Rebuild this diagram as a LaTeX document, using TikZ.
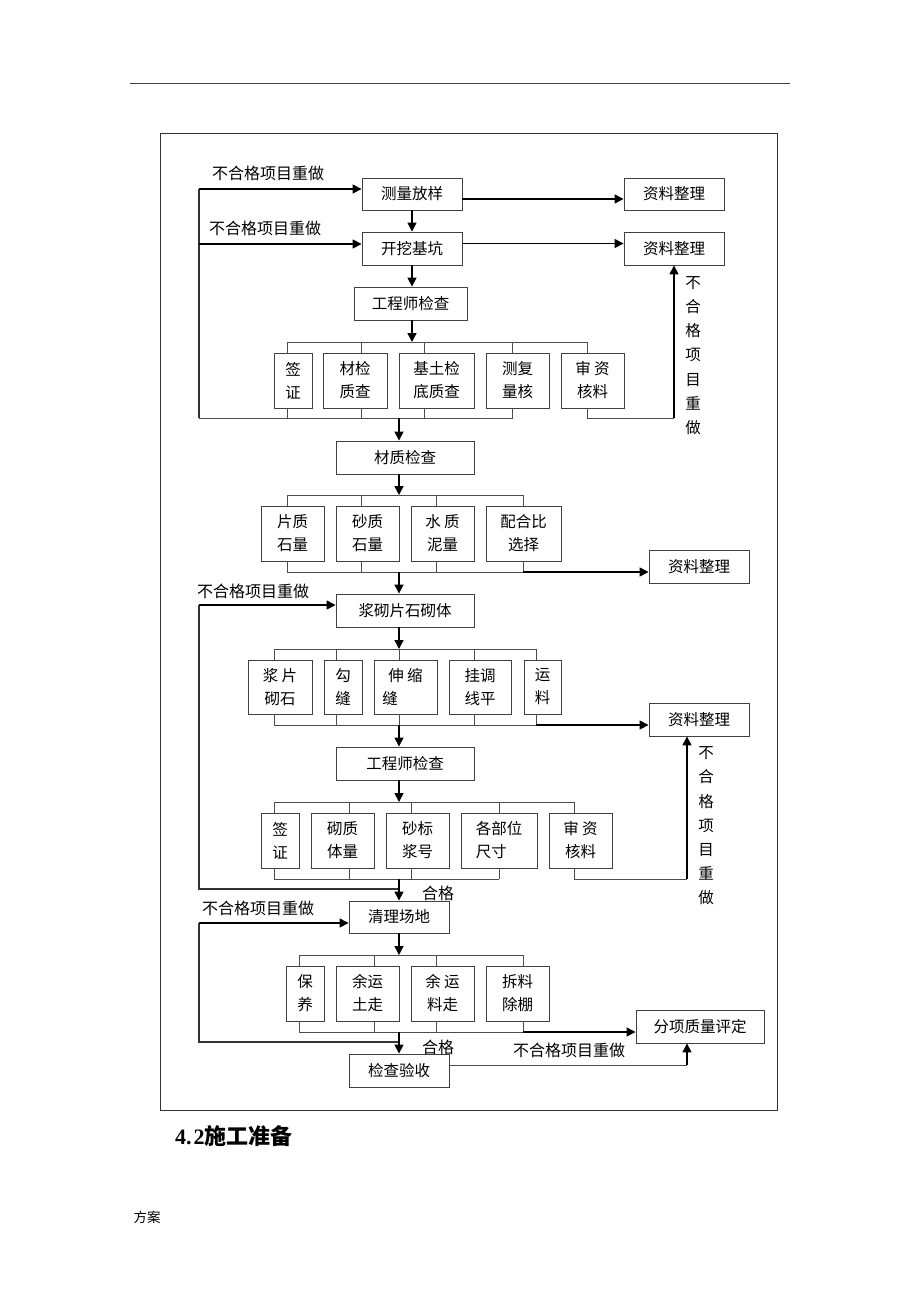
\documentclass[tikz,border=0pt]{standalone}
\usepackage{fontspec}
\setmainfont{Liberation Serif}
\newfontfamily\cjk{Noto Sans CJK SC}
\usetikzlibrary{arrows.meta,calc}
\begin{document}
\begin{tikzpicture}[x=1pt,y=-1pt,
  box/.style={draw=black!75, line width=0.9pt, inner sep=0pt, align=center, font=\cjk\fontsize{15.5}{23}\selectfont},
  bar/.style={draw=black!70, line width=0.9pt},
  arr/.style={draw=black, line width=1.5pt, -{Triangle[length=9pt,width=9pt]}},
  fb/.style={draw=black!80, line width=1.1pt},
  thin/.style={draw=black!70, line width=0.9pt},
  lbl/.style={font=\cjk\fontsize{16}{18}\selectfont, inner sep=0pt},
  vlbl/.style={font=\cjk\fontsize{15.5}{24.2}\selectfont, inner sep=0pt, align=center}]
\fill[white] (0,0) rectangle (920,1302);
\useasboundingbox (0,0) rectangle (920,1302);
% page decorations
\draw[black!75, line width=1pt] (130,83) -- (790,83);
\draw[black!80, line width=1pt] (160,133) rectangle (777,1110);
\node[anchor=west, inner sep=0pt, font=\fontsize{22}{26}\selectfont\bfseries] (title) at (175,1136) {4.\kern2pt 2{\cjk 施工准备}};
\node[inner sep=0pt, font=\cjk\fontsize{13.5}{16}\selectfont] (foot) at (147,1217) {方案};

% ---------- main boxes ----------
\node[box, minimum width=100pt, minimum height=32pt] (m1) at (412,194) {测量放样};
\node[box, minimum width=100pt, minimum height=33pt] (m2) at (412,248.5) {开挖基坑};
\node[box, minimum width=100pt, minimum height=32pt] (r1) at (674,194) {资料整理};
\node[box, minimum width=100pt, minimum height=33pt] (r2) at (674,248.5) {资料整理};
\node[box, minimum width=113pt, minimum height=33pt] (e1) at (410.5,303.5) {工程师检查};
\node[box, minimum width=38pt, minimum height=55pt] (a1) at (293,380.5) {签\\证};
\node[box, minimum width=64pt, minimum height=55pt] (a2) at (355,380.5) {材检\\质查};
\node[box, minimum width=75pt, minimum height=55pt] (a3) at (436.5,380.5) {基土检\\底质查};
\node[box, minimum width=63pt, minimum height=55pt] (a4) at (517.5,380.5) {测复\\量核};
\node[box, minimum width=63pt, minimum height=55pt] (a5) at (592.5,380.5) {审\ 资\\核料};
\node[box, minimum width=138pt, minimum height=33pt] (c1) at (405,457.5) {材质检查};
\node[box, minimum width=63pt, minimum height=55pt] (b1) at (292.5,533.5) {片质\\石量};
\node[box, minimum width=63pt, minimum height=55pt] (b2) at (367.5,533.5) {砂质\\石量};
\node[box, minimum width=63pt, minimum height=55pt] (b3) at (442.5,533.5) {水\ 质\\泥量};
\node[box, minimum width=75pt, minimum height=55pt] (b4) at (523.5,533.5) {配合比\\选择};
\node[box, minimum width=100pt, minimum height=33pt] (r3) at (699,566.5) {资料整理};
\node[box, minimum width=138pt, minimum height=33pt] (c2) at (405,610.5) {浆砌片石砌体};
\node[box, minimum width=64pt, minimum height=54pt] (d1) at (280,687) {浆\ 片\\砌石};
\node[box, minimum width=38pt, minimum height=54pt] (d2) at (343,687) {勾\\缝};
\node[box, minimum width=63pt, minimum height=54pt] (d3) at (405.5,687) {伸\ 缩\\缝\phantom{缩缩}};
\node[box, minimum width=62pt, minimum height=54pt] (d4) at (480,687) {挂调\\线平};
\node[box, minimum width=37pt, minimum height=54pt] (d5) at (542.5,687) {运\\料};
\node[box, minimum width=100pt, minimum height=33pt] (r4) at (699,719.5) {资料整理};
\node[box, minimum width=138pt, minimum height=33pt] (e2) at (405,763.5) {工程师检查};
\node[box, minimum width=38pt, minimum height=55pt] (f1) at (280,840.5) {签\\证};
\node[box, minimum width=63pt, minimum height=55pt] (f2) at (342.5,840.5) {砌质\\体量};
\node[box, minimum width=63pt, minimum height=55pt] (f3) at (417.5,840.5) {砂标\\浆号};
\node[box, minimum width=76pt, minimum height=55pt] (f4) at (499,840.5) {各部位\\尺寸\phantom{寸}};
\node[box, minimum width=63pt, minimum height=55pt] (f5) at (580.5,840.5) {审\ 资\\核料};
\node[box, minimum width=100pt, minimum height=32pt] (c3) at (399,917) {清理场地};
\node[box, minimum width=38pt, minimum height=55pt] (g1) at (305,993.5) {保\\养};
\node[box, minimum width=63pt, minimum height=55pt] (g2) at (367.5,993.5) {余运\\土走};
\node[box, minimum width=63pt, minimum height=55pt] (g3) at (442.5,993.5) {余\ 运\\料走};
\node[box, minimum width=63pt, minimum height=55pt] (g4) at (517.5,993.5) {拆料\\除棚};
\node[box, minimum width=128pt, minimum height=33pt] (r5) at (700,1026.5) {分项质量评定};
\node[box, minimum width=100pt, minimum height=33pt] (c4) at (399,1070.5) {检查验收};

% ---------- labels ----------
\node[lbl] (n1) at (268,173) {不合格项目重做};
\node[lbl] (n2) at (265,228) {不合格项目重做};
\node[lbl] (n3) at (253,591) {不合格项目重做};
\node[lbl] (n4) at (258,908) {不合格项目重做};
\node[lbl] (n5) at (569,1050) {不合格项目重做};
\node[lbl] (ok1) at (438,893) {合格};
\node[lbl] (ok2) at (438,1047) {合格};
\node[vlbl] (v1) at (693,355.5) {不\\合\\格\\项\\目\\重\\做};
\node[vlbl] (v2) at (706,826) {不\\合\\格\\项\\目\\重\\做};

% ---------- top ----------
\draw[arr] (m1.south) -- (m2.north);
\draw[arr] ($(m1.east)+(0,5)$) -- ($(r1.west)+(0,5)$);
\draw[arr] ($(m2.east)+(0,-5)$) -- ($(r2.west)+(0,-5)$);
\draw[arr] (m2.south) -- (m2.south |- e1.north);
\draw[arr] (m2.south |- e1.south) -- (412,342);
% left feedback 1
\coordinate (L1) at (199,418);
\draw[fb] (L1) -- (199,189);
\draw[arr] (199,189) -- ($(m1.west)+(0,-5)$);
\draw[arr] (199,244) -- ($(m2.west)+(0,-4.5)$);

% row 1
\draw[bar] (a1.north -| 287,0) -- (287,342) -- (587,342) -- (a5.north -| 587,0);
\draw[bar] (a2.north -| 361,0) -- (361,342);
\draw[bar] (a3.north -| 424,0) -- (424,342);
\draw[bar] (a4.north -| 512,0) -- (512,342);
\draw[bar] (a1.south -| 287,0) -- (287,418);
\draw[bar] (a2.south -| 361,0) -- (361,418);
\draw[bar] (a3.south -| 424,0) -- (424,418);
\draw[bar] (a4.south -| 512,0) -- (512,418) -- (L1);
\draw[bar] (a5.south -| 587,0) -- (587,418) -- (674,418);
\draw[arr] (674,418) -- (r2.south);
\draw[arr] (399,418) -- (c1.north -| 399,0);

% row 2
\draw[arr] (c1.south -| 399,0) -- (399,495);
\draw[bar] (b1.north -| 287,0) -- (287,495) -- (523,495) -- (b4.north -| 523,0);
\draw[bar] (b2.north -| 361,0) -- (361,495);
\draw[bar] (b3.north -| 436,0) -- (436,495);
\draw[bar] (b1.south -| 287,0) -- (287,572) -- (523,572);
\draw[bar] (b2.south -| 361,0) -- (361,572);
\draw[bar] (b3.south -| 436,0) -- (436,572);
\draw[bar] (b4.south -| 523,0) -- (523,572);
\draw[arr] (523,572) -- ($(r3.west)+(0,5.5)$);
\draw[arr] (399,572) -- (c2.north -| 399,0);
% left feedback 3
\draw[fb] (399,889) -- (199,889) -- (199,605);
\draw[arr] (199,605) -- ($(c2.west)+(0,-5.5)$);

% row 3
\draw[arr] (c2.south -| 399,0) -- (399,649);
\draw[bar] (d1.north -| 274,0) -- (274,649) -- (536,649) -- (d5.north -| 536,0);
\draw[bar] (d2.north -| 336,0) -- (336,649);
\draw[bar] (d3.north -| 399,0) -- (399,649);
\draw[bar] (d4.north -| 474,0) -- (474,649);
\draw[bar] (d1.south -| 274,0) -- (274,725) -- (536,725);
\draw[bar] (d2.south -| 336,0) -- (336,725);
\draw[bar] (d3.south -| 399,0) -- (399,725);
\draw[bar] (d4.south -| 474,0) -- (474,725);
\draw[bar] (d5.south -| 536,0) -- (536,725);
\draw[arr] (536,725) -- ($(r4.west)+(0,5.5)$);
\draw[arr] (399,725) -- (e2.north -| 399,0);

% row 4
\draw[arr] (e2.south -| 399,0) -- (399,802);
\draw[bar] (f1.north -| 274,0) -- (274,802) -- (574,802) -- (f5.north -| 574,0);
\draw[bar] (f2.north -| 349,0) -- (349,802);
\draw[bar] (f3.north -| 411,0) -- (411,802);
\draw[bar] (f4.north -| 499,0) -- (499,802);
\draw[bar] (f1.south -| 274,0) -- (274,879) -- (499,879);
\draw[bar] (f2.south -| 349,0) -- (349,879);
\draw[bar] (f3.south -| 411,0) -- (411,879);
\draw[bar] (f4.south -| 499,0) -- (499,879);
\draw[bar] (f5.south -| 574,0) -- (574,879) -- (687,879);
\draw[arr] (687,879) -- (r4.south -| 687,0);
\draw[arr] (399,879) -- (c3.north -| 399,0);

% row 5
\draw[arr] (c3.south -| 399,0) -- (399,955);
\draw[bar] (g1.north -| 299,0) -- (299,955) -- (523,955) -- (g4.north -| 523,0);
\draw[bar] (g2.north -| 374,0) -- (374,955);
\draw[bar] (g3.north -| 436,0) -- (436,955);
\draw[bar] (g1.south -| 299,0) -- (299,1032) -- (523,1032);
\draw[bar] (g2.south -| 374,0) -- (374,1032);
\draw[bar] (g3.south -| 436,0) -- (436,1032);
\draw[bar] (g4.south -| 523,0) -- (523,1032);
\draw[arr] (523,1032) -- ($(r5.west)+(0,5.5)$);
% left feedback 4
\draw[fb] (399,1042) -- (199,1042) -- (199,923);
\draw[arr] (199,923) -- ($(c3.west)+(0,6)$);
\draw[arr] (399,1032) -- (c4.north -| 399,0);
% bottom right feedback
\draw[thin] ($(c4.east)+(0,-5.5)$) -- (687,1065);
\draw[arr] (687,1065) -- (r5.south -| 687,0);
\end{tikzpicture}
\end{document}
